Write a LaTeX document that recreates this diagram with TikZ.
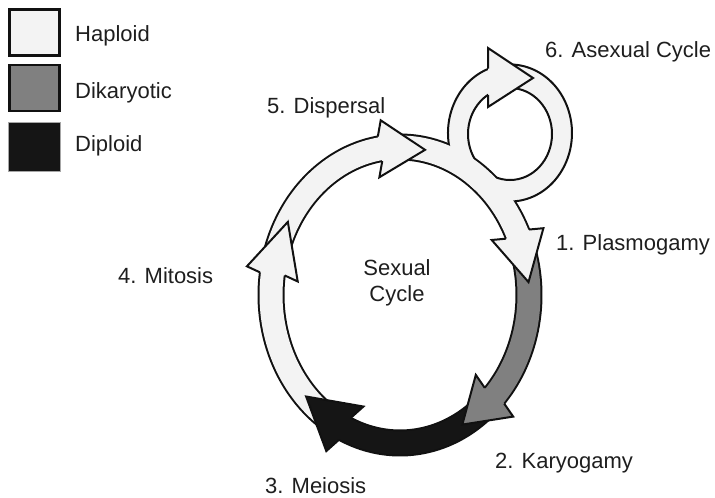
\documentclass[tikz,border=0pt]{standalone}
\usepackage{fontspec}
\setmainfont{Liberation Sans}
\usetikzlibrary{calc}
\definecolor{hapl}{HTML}{F3F3F3}
\definecolor{dika}{HTML}{808080}
\definecolor{dipl}{HTML}{151515}
\definecolor{outl}{HTML}{111111}
\definecolor{txt}{HTML}{1E1E1E}

\tikzset{
  lbl/.style={anchor=base west, inner sep=0pt, font=\fontsize{22}{26}\selectfont, text=txt},
  outline/.style={draw=outl, line width=2pt, line join=miter},
  legendbox/.style={draw=outl, line width=2.6pt, minimum width=50pt, minimum height=46pt, inner sep=0pt},
}

% shaft along the main ring (centre 400,295; radii 129/148), parametric angles
\newcommand\ringshaft[3]{%
  \draw[draw=outl, line width=27pt] ({400+129*cos(#1)},{295+148*sin(#1)}) arc[start angle=#1, end angle=#2, x radius=129, y radius=148];
  \draw[draw=#3, line width=23pt] ({400+129*cos(#1)},{295+148*sin(#1)}) arc[start angle=#1, end angle=#2, x radius=129, y radius=148];
}

% arrow head on the main ring: back angle, tip angle, half width, fill colour
\newcommand\ringhead[4]{%
  \pgfmathsetmacro\hBx{400+129*cos(#1)}%
  \pgfmathsetmacro\hBy{295+148*sin(#1)}%
  \pgfmathsetmacro\hTx{400+129*cos(#2)}%
  \pgfmathsetmacro\hTy{295+148*sin(#2)}%
  \pgfmathsetmacro\hGx{-129*sin(#1)}%
  \pgfmathsetmacro\hGy{148*cos(#1)}%
  \pgfmathsetmacro\hGn{veclen(\hGx,\hGy)}%
  \pgfmathsetmacro\hNx{(\hGy)/\hGn}%
  \pgfmathsetmacro\hNy{-(\hGx)/\hGn}%
  \pgfmathsetmacro\hDx{\hTx-\hBx}%
  \pgfmathsetmacro\hDy{\hTy-\hBy}%
  \pgfmathsetmacro\hDn{veclen(\hDx,\hDy)}%
  \pgfmathsetmacro\hMx{(\hDy)/\hDn}%
  \pgfmathsetmacro\hMy{-(\hDx)/\hDn}%
  \fill[#4] ({\hBx+12.5*(\hNx)},{\hBy+12.5*(\hNy)}) -- ({\hBx+#3*(\hMx)},{\hBy+#3*(\hMy)}) -- (\hTx,\hTy) -- ({\hBx-#3*(\hMx)},{\hBy-#3*(\hMy)}) -- ({\hBx-12.5*(\hNx)},{\hBy-12.5*(\hNy)}) -- cycle;
  \draw[outline] ({\hBx+12.5*(\hNx)},{\hBy+12.5*(\hNy)}) -- ({\hBx+#3*(\hMx)},{\hBy+#3*(\hMy)}) -- (\hTx,\hTy) -- ({\hBx-#3*(\hMx)},{\hBy-#3*(\hMy)}) -- ({\hBx-12.5*(\hNx)},{\hBy-12.5*(\hNy)});
}

\begin{document}
\begin{tikzpicture}[x=1pt, y=-1pt]
\useasboundingbox (0,0) rectangle (715,498);

% legend
\node (bhap) [legendbox, fill=hapl] at (34.7,32.5) {};
\node (bdik) [legendbox, fill=dika] at (34.7,88) {};
\node (bdip) [legendbox, fill=dipl, draw=gray!70, line width=0.8pt, minimum width=52pt, minimum height=49pt] at (34.7,146.7) {};
\node (lhap) [lbl] at (75,41.7) {Haploid};
\node (ldik) [lbl] at (75,98.3) {Dikaryotic};
\node (ldip) [lbl] at (75,151.7) {Diploid};

% shafts of the sexual cycle
\ringshaft{-18.5}{44.4}{dika}
\ringshaft{48.4}{116.8}{dipl}
\ringshaft{121.7}{189.7}{hapl}
\ringshaft{194.6}{262.6}{hapl}

% shaft after dispersal, joined with the asexual loop
\draw[draw=outl, line width=27pt] ({400+129*cos(267.1)},{295+148*sin(267.1)}) arc[start angle=267.1, end angle=337.2, x radius=129, y radius=148];
\fill[hapl, even odd rule] (510,133) ellipse[x radius=62, y radius=68.5] (510,134) ellipse[x radius=42, y radius=46];
\draw[outline] (510,134) ellipse[x radius=42, y radius=46];
\draw[outline] ({510+62*cos(160)},{133+68.5*sin(160)}) arc[start angle=160, end angle=455, x radius=62, y radius=68.5];
\draw[draw=hapl, line width=23pt] ({400+129*cos(267.1)},{295+148*sin(267.1)}) arc[start angle=267.1, end angle=337.2, x radius=129, y radius=148];

% arrow heads
\ringhead{335.7}{355}{26.5}{hapl}
\ringhead{42.9}{61.1}{28}{dika}
\ringhead{115.3}{136.7}{29}{dipl}
\ringhead{188.2}{209.6}{26.5}{hapl}
\ringhead{261.1}{281.2}{28.5}{hapl}
\fill[hapl] (488,68.5) -- (488,48) -- (533,78) -- (488,107) -- (488,94.8) -- cycle;
\draw[outline] (488,68.5) -- (488,48) -- (533,78) -- (488,107) -- (488,94.8);

% labels
\node (sex) [font=\fontsize{22}{26}\selectfont, text=txt, align=center, inner sep=0pt] at (397,283) {Sexual\\Cycle};
\node (l1) [lbl] at (556,250.7) {1. Plasmogamy};
\node (l2) [lbl] at (495,468) {2. Karyogamy};
\node (l3) [lbl] at (265,493) {3. Meiosis};
\node (l4) [lbl] at (118,283.3) {4. Mitosis};
\node (l5) [lbl] at (267,113) {5. Dispersal};
\node (l6) [lbl] at (545,57.3) {6. Asexual Cycle};
\end{tikzpicture}
\end{document}
